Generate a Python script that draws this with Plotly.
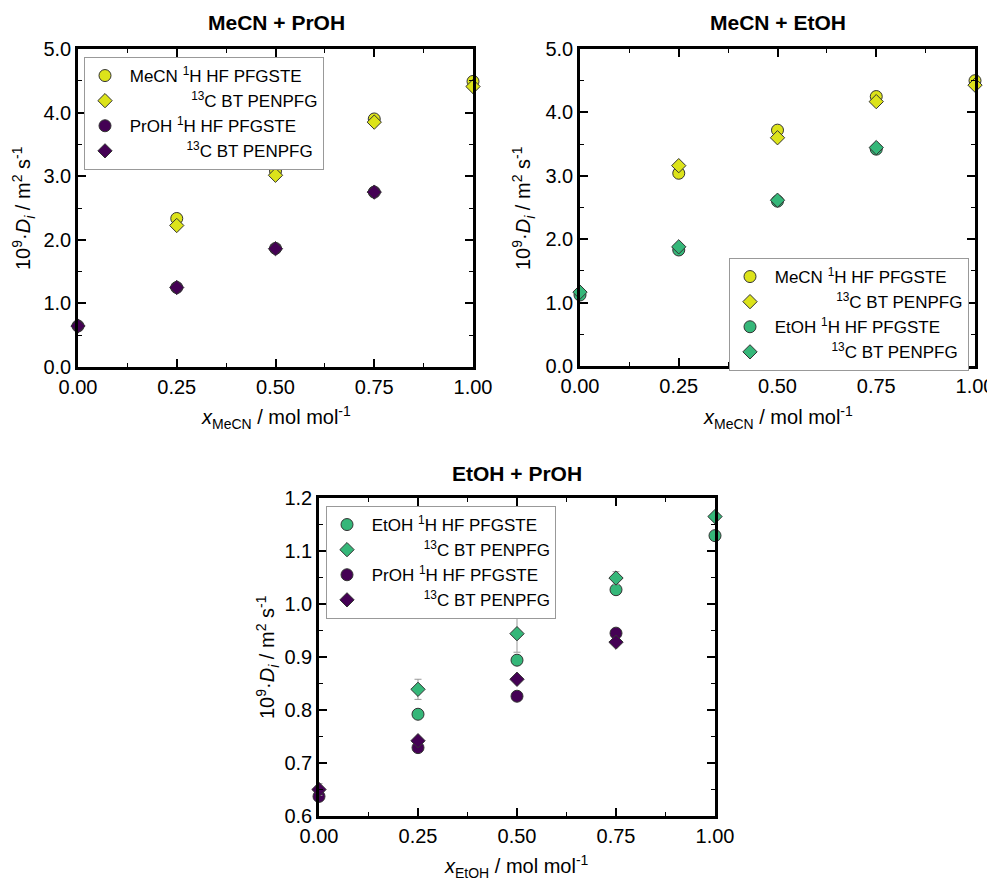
import plotly.graph_objects as go

# ---------------- data ----------------
x_vals = [0.0, 0.25, 0.50, 0.75, 1.00]

# Panel 1: MeCN + PrOH
p1_mecn_h = [None, 2.335, 3.08, 3.90, 4.49]
p1_mecn_c = [None, 2.225, 3.015, 3.85, 4.41]
p1_proh_h = [0.645, 1.25, 1.865, 2.75, None]
p1_proh_c = [0.645, 1.25, 1.86, 2.75, None]

# Panel 2: MeCN + EtOH
p2_mecn_h = [None, 3.04, 3.72, 4.25, 4.50]
p2_mecn_c = [None, 3.16, 3.60, 4.17, 4.43]
p2_etoh_h = [1.12, 1.83, 2.60, 3.42, None]
p2_etoh_c = [1.165, 1.88, 2.615, 3.445, None]

# Panel 3: EtOH + PrOH
p3_etoh_h = [None, 0.792, 0.894, 1.027, 1.129]
p3_etoh_c = [None, 0.839, 0.944, 1.049, 1.165]
p3_etoh_c_err = [None, 0.019, 0.035, 0.012, 0.005]
p3_proh_h = [0.637, 0.729, 0.826, 0.945, None]
p3_proh_c = [0.650, 0.742, 0.858, 0.928, None]
p3_proh_c_err = [0.011, 0.004, 0.004, 0.004, None]

x_ticks = [0.0, 0.25, 0.50, 0.75, 1.00]
x_ticklabels = ["0.00", "0.25", "0.50", "0.75", "1.00"]

panel_titles = ["MeCN + PrOH", "MeCN + EtOH", "EtOH + PrOH"]

# ---------------- styling ----------------
FONT = "Arial, Liberation Sans, sans-serif"
C_MECN = "#dce31a"
C_ETOH = "#35b779"
C_PROH = "#440154"
EDGE = "#333333"
OFF = 8  # page body margin
W, H = 995 - OFF, 883 - OFF

NB = "\u00a0"


def px_x(p):
    return (p - OFF) / W


def px_y(p):
    return 1 - (p - OFF) / H


fig = go.Figure()


def add(xa, ya, y, color, symbol, name, legend, err=None):
    size = 12 if symbol == "circle" else 11
    kw = {}
    if err is not None:
        kw["error_y"] = dict(type="data", array=err, color="#999999",
                             thickness=1, width=3.5)
    fig.add_trace(go.Scatter(
        x=x_vals, y=y, mode="markers", name=name, legend=legend,
        xaxis=xa, yaxis=ya, cliponaxis=False,
        marker=dict(color=color, symbol=symbol, size=size,
                    line=dict(color=EDGE, width=1)),
        **kw))


lab_h = lambda sp: f"{NB}{sp} <sup>1</sup>H HF PFGSTE"
lab_c = lambda n: NB * n + "<sup>13</sup>C BT PENPFG"

# panel 1
add("x", "y", p1_mecn_h, C_MECN, "circle", lab_h("MeCN"), "legend")
add("x", "y", p1_mecn_c, C_MECN, "diamond", lab_c(14), "legend")
add("x", "y", p1_proh_h, C_PROH, "circle", lab_h("PrOH"), "legend")
add("x", "y", p1_proh_c, C_PROH, "diamond", lab_c(13), "legend")
# panel 2
add("x2", "y2", p2_mecn_h, C_MECN, "circle", lab_h("MeCN"), "legend2")
add("x2", "y2", p2_mecn_c, C_MECN, "diamond", lab_c(14), "legend2")
add("x2", "y2", p2_etoh_h, C_ETOH, "circle", lab_h("EtOH"), "legend2")
add("x2", "y2", p2_etoh_c, C_ETOH, "diamond", lab_c(13), "legend2")
# panel 3
add("x3", "y3", p3_etoh_h, C_ETOH, "circle", lab_h("EtOH"), "legend3")
add("x3", "y3", p3_etoh_c, C_ETOH, "diamond", lab_c(12), "legend3", p3_etoh_c_err)
add("x3", "y3", p3_proh_h, C_PROH, "circle", lab_h("PrOH"), "legend3")
add("x3", "y3", p3_proh_c, C_PROH, "diamond", lab_c(12), "legend3", p3_proh_c_err)


def xaxis(domain, anchor):
    return dict(domain=domain, anchor=anchor, range=[0, 1],
                tickvals=x_ticks, ticktext=x_ticklabels,
                showline=True, linecolor="black", linewidth=2.5, mirror="allticks",
                ticks="inside", ticklen=8, tickwidth=1.5, tickcolor="black",
                minor=dict(ticks="inside", ticklen=4, tickwidth=1.2, dtick=0.125,
                           tick0=0, tickcolor="black"),
                showgrid=False, zeroline=False,
                tickfont=dict(family=FONT, size=20, color="black"))


def yaxis(domain, anchor, rng, dtick, fmt):
    return dict(domain=domain, anchor=anchor, range=rng, dtick=dtick, tick0=0,
                tickformat=fmt,
                showline=True, linecolor="black", linewidth=2.5, mirror="allticks",
                ticks="inside", ticklen=8, tickwidth=1.5, tickcolor="black",
                minor=dict(ticks="inside", ticklen=4, tickwidth=1.2, dtick=dtick / 2,
                           tick0=0, tickcolor="black"),
                showgrid=False, zeroline=False,
                tickfont=dict(family=FONT, size=20, color="black"))


d1x = [px_x(78), px_x(473)]
d1y = [px_y(367), px_y(49)]
d2x = [px_x(580), px_x(975)]
d2y = [px_y(366), px_y(49)]
d3x = [px_x(319), px_x(715)]
d3y = [px_y(816), px_y(498)]

legend_common = dict(font=dict(family=FONT, size=17, color="black"),
                     bgcolor="white", bordercolor="#999999", borderwidth=1,
                     xanchor="left", yanchor="top", tracegroupgap=0)

ytitle = "10<sup>9</sup>·<i>D<sub>i</sub></i> / m<sup>2</sup> s<sup>-1</sup>"

annotations = []
for t, cx, cy in [(panel_titles[0], 276, 22), (panel_titles[1], 777.5, 22),
                  (panel_titles[2], 517, 473)]:
    annotations.append(dict(text=f"<b>{t}</b>", x=px_x(cx), y=px_y(cy),
                            xref="paper", yref="paper", showarrow=False,
                            xanchor="center", yanchor="middle",
                            font=dict(family=FONT, size=21, color="black")))
for cx, cy in [(24, 208), (524, 208), (267, 657)]:
    annotations.append(dict(text=ytitle, x=px_x(cx), y=px_y(cy), textangle=-90,
                            xref="paper", yref="paper", showarrow=False,
                            xanchor="center", yanchor="middle",
                            font=dict(family=FONT, size=20, color="black")))
for sub, cx, cy in [("MeCN", 276, 417), ("MeCN", 777.5, 417), ("EtOH", 517, 866)]:
    annotations.append(dict(text=f"<i>x</i><sub>{sub}</sub> / mol mol<sup>-1</sup>",
                            x=px_x(cx), y=px_y(cy),
                            xref="paper", yref="paper", showarrow=False,
                            xanchor="center", yanchor="middle",
                            font=dict(family=FONT, size=20, color="black")))

fig.update_layout(
    width=W, height=H, margin=dict(l=0, r=0, t=0, b=0, autoexpand=False),
    paper_bgcolor="white", plot_bgcolor="white",
    xaxis=xaxis(d1x, "y"), yaxis=yaxis(d1y, "x", [0, 5], 1.0, ".1f"),
    xaxis2=xaxis(d2x, "y2"), yaxis2=yaxis(d2y, "x2", [0, 5], 1.0, ".1f"),
    xaxis3=xaxis(d3x, "y3"), yaxis3=yaxis(d3y, "x3", [0.6, 1.2], 0.1, ".1f"),
    legend=dict(x=px_x(84), y=px_y(57), **legend_common),
    legend2=dict(x=px_x(729), y=px_y(258), **legend_common),
    legend3=dict(x=px_x(326), y=px_y(506), **legend_common),
    annotations=annotations,
    showlegend=True,
)

fig.write_html("out.html")
